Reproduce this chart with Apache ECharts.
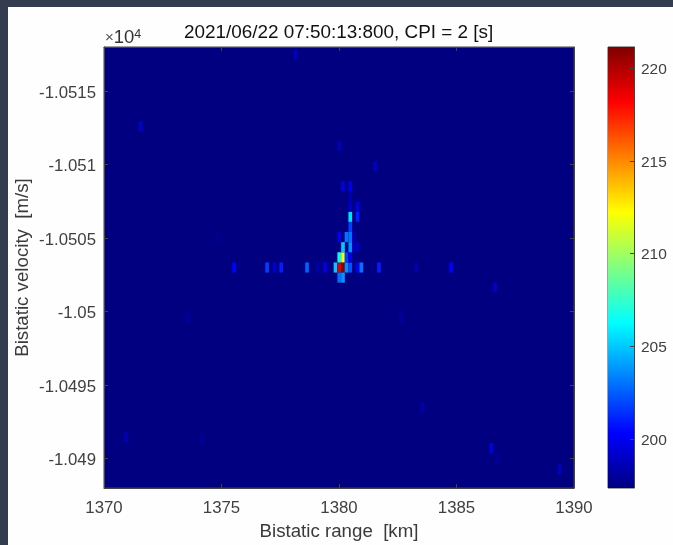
<!DOCTYPE html>
<html>
<head>
<meta charset="utf-8">
<style>
html,body{margin:0;padding:0;background:#343d50;width:673px;height:545px;overflow:hidden}
#c{position:absolute;left:8px;top:7px;width:665px;height:538px;background:#fefefe}
</style>
<script src="https://cdn.jsdelivr.net/npm/echarts@6/dist/echarts.min.js"></script>
</head>
<body>
<div id="c"></div>
<script>
var titleText = '2021/06/22 07:50:13:800, CPI = 2 [s]';
var xName = 'Bistatic range  [km]';
var yName = 'Bistatic velocity  [m/s]';
var yTicks = [-10515,-10510,-10505,-10500,-10495,-10490];
var xRange = [1370,1390];
var yRange = [-10518,-10488];
var cRange = [197.35,221.15];
var cTicks = [200,205,210,215,220];
var cellW = 0.156, cellH = 0.69;
var jet = ['#000080','#0000ff','#0080ff','#00ffff','#80ff80','#ffff00','#ff8000','#ff0000','#800000'];

var rangeKm = [
 1375.54,1376.94,1377.26,1377.54,1378.64,1379.11,1379.41,1379.85,1380.01,1380.17,1380.32,1380.48,1380.79,1380.95,1381.70,1383.28,1384.77,
 1380.01,1380.17,
 1380.01,1380.17,1380.32,1380.48,
 1380.17,1380.48,1380.64,1380.79,
 1380.01,1380.32,1380.48,1380.64,
 1380.48,
 1380.48,1380.79,
 1380.48,1380.79,
 1380.48,
 1380.17,1380.48,
 1381.54,1380.01,
 1378.16,1371.56,1386.64,1382.63,1383.55,1386.48,1386.76,1389.39,1370.94,1374.16,1373.56,1374.85
];
var velocityMs = [
 -10503,-10503,-10503,-10503,-10503,-10503,-10503,-10503,-10503,-10503,-10503,-10503,-10503,-10503,-10503,-10503,-10503,
 -10502.31,-10502.31,
 -10503.69,-10503.69,-10503.69,-10503.69,
 -10504.38,-10504.38,-10504.38,-10504.38,
 -10505.07,-10505.07,-10505.07,-10505.07,
 -10505.76,
 -10506.45,-10506.45,
 -10507.14,-10507.14,
 -10507.83,
 -10508.52,-10508.52,
 -10509.9,-10511.28,
 -10517.46,-10512.6,-10501.65,-10499.6,-10493.5,-10490.7,-10490,-10489.26,-10491.44,-10491.4,-10499.6,-10505
];
var powerDb = [
 200.3,201.8,199.2,201,202.6,198.3,199.9,205,219,221,203.7,202.2,199.9,203,201,198.4,200.3,
 202.9,203.8,
 206.3,212.2,201.8,199.6,
 205,203.7,198.6,198.8,
 199.9,203,203,198.5,
 201.8,
 205.6,201,
 198.8,199.6,
 198.4,
 199.6,199.6,
 198.8,198.6,
 198.9,199.1,199,198.1,198.3,199.6,197.9,199,198.5,197.9,198.1,197.8
];
var cells = rangeKm.map(function(r,i){ return [r, velocityMs[i], powerDb[i]]; });

var chart = echarts.init(document.getElementById('c'), null, {renderer:'canvas'});
var axisCol = '#444';
var font = '"Liberation Sans"';
var labelStyle = {color:'#404040', fontFamily:font, fontSize:16.8};
var nameStyle = {color:'#3a3a3a', fontFamily:font, fontSize:18.7};
var lineStyle = {show:true, onZero:false, lineStyle:{color:axisCol,width:1}};
var tick = function(extra){ return Object.assign({show:true,inside:true,length:4,lineStyle:{color:axisCol}},extra||{}); };

chart.setOption({
  animation:false,
  backgroundColor:'transparent',
  title:[
    {text:titleText,left:176,top:16,padding:0,textStyle:{color:'#111',fontWeight:'normal',fontFamily:font,fontSize:18.9}},
    {text:'{a|×}{b|10}{c|4}',left:97,top:21,padding:0,textStyle:{fontWeight:'normal',rich:{
      a:{fontSize:15,color:'#555',fontFamily:font,fontWeight:'normal'},
      b:{fontSize:18.5,color:'#333',fontFamily:font,fontWeight:'normal'},
      c:{fontSize:12.5,color:'#333',fontFamily:font,fontWeight:'normal',verticalAlign:'bottom',padding:[0,0,7,0]}
    }}}
  ],
  grid:[
    {left:96,top:40,width:470,height:441,outerBoundsMode:'none',show:true,backgroundColor:jet[0],borderColor:axisCol,borderWidth:1},
    {left:600,top:40,width:26,height:441,outerBoundsMode:'none',show:true,backgroundColor:'transparent',borderColor:axisCol,borderWidth:1}
  ],
  xAxis:[
    {type:'value',gridIndex:0,min:xRange[0],max:xRange[1],interval:5,position:'bottom',z:5,
     name:xName,nameLocation:'middle',nameGap:34,nameMoveOverlap:false,nameTextStyle:nameStyle,
     axisLine:lineStyle,axisTick:tick(),splitLine:{show:false},
     axisLabel:Object.assign({margin:12,formatter:function(v){return String(v);}},labelStyle)},
    {type:'value',gridIndex:0,min:xRange[0],max:xRange[1],interval:5,position:'top',z:5,
     axisLine:lineStyle,axisTick:tick(),splitLine:{show:false},axisLabel:{show:false}},
    {type:'value',gridIndex:1,min:0,max:1,show:false}
  ],
  yAxis:[
    {type:'value',gridIndex:0,inverse:true,min:yRange[0],max:yRange[1],position:'left',z:5,
     name:yName,nameLocation:'middle',nameGap:71.5,nameMoveOverlap:false,nameRotate:90,nameTextStyle:nameStyle,
     axisLine:lineStyle,axisTick:tick({customValues:yTicks}),splitLine:{show:false},
     axisLabel:Object.assign({margin:8,customValues:yTicks,
       rich:{v:{fontFamily:font,fontSize:16.8,color:'#404040',padding:[4,0,0,0]}},
       formatter:function(v){return '{v|'+String(+(v/10000).toFixed(4))+'}';}},labelStyle)},
    {type:'value',gridIndex:0,inverse:true,min:yRange[0],max:yRange[1],position:'right',z:5,
     axisLine:lineStyle,axisTick:tick({customValues:yTicks}),splitLine:{show:false},axisLabel:{show:false}},
    {type:'value',gridIndex:1,min:cRange[0],max:cRange[1],position:'right',z:5,
     axisLine:lineStyle,axisTick:tick({customValues:cTicks}),splitLine:{show:false},
     axisLabel:Object.assign({},labelStyle,{fontSize:15.5,margin:7,customValues:cTicks,
       rich:{v:{fontFamily:font,fontSize:15.5,color:'#404040',padding:[3,0,0,0]}},
       formatter:function(v){return '{v|'+v+'}';}})}
  ],
  visualMap:{show:false,type:'continuous',seriesIndex:0,dimension:2,min:cRange[0],max:cRange[1],inRange:{color:jet}},
  series:[
    {type:'custom',xAxisIndex:0,yAxisIndex:0,data:cells,encode:{x:0,y:1},
     renderItem:function(params,api){
       var r=api.value(0), v=api.value(1);
       var a=api.coord([r-cellW/2,v-cellH/2]), b=api.coord([r+cellW/2,v+cellH/2]);
       return {type:'rect',shape:{x:a[0],y:a[1],width:b[0]-a[0],height:b[1]-a[1]},style:{fill:api.visual('color')}};
     }},
    {type:'custom',xAxisIndex:2,yAxisIndex:2,data:[[0,cRange[0],1,cRange[1]]],encode:{x:[0,2],y:[1,3]},
     renderItem:function(params,api){
       var a=api.coord([api.value(0),api.value(3)]), b=api.coord([api.value(2),api.value(1)]);
       return {type:'rect',shape:{x:a[0],y:a[1],width:b[0]-a[0],height:b[1]-a[1]},
         style:{fill:new echarts.graphic.LinearGradient(0,1,0,0,jet.map(function(c,i){return {offset:i/(jet.length-1),color:c};}))}};
     }}
  ]
});
</script>
</body>
</html>
